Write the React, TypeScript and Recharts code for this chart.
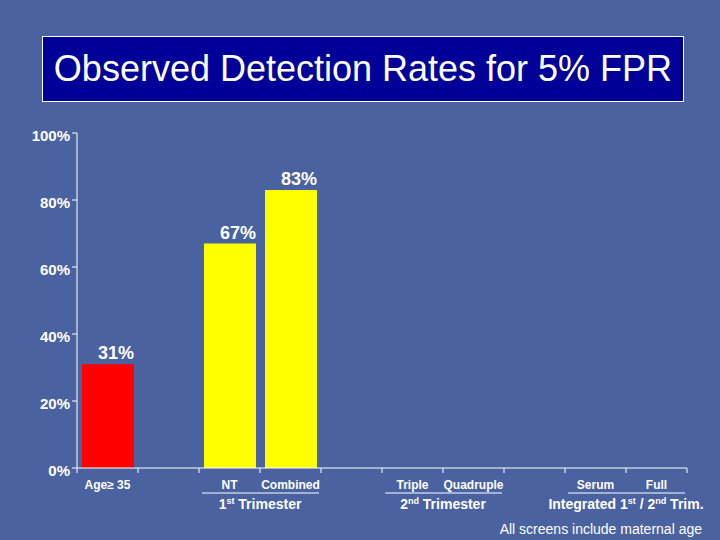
import { Bar, BarChart, Cell, LabelList, XAxis, YAxis } from 'recharts'

const W = 720
const H = 540
const PLOT_LEFT = 77
const PLOT_RIGHT = 33

const categories = ['Age≥ 35', '', 'NT', 'Combined', '', 'Triple', 'Quadruple', '', 'Serum', 'Full']
const rates: Array<number | null> = [31, null, 67, 83, null, null, null, null, null, null]
const barColors = ['#ff0000', '', '#ffff00', '#ffff00', '', '', '', '', '', '']
const yTicks = [0, 20, 40, 60, 80, 100]

// group spans two categories, starting at groupStarts[i]
const groupStarts = [2, 5, 8]
const groupLabels: Array<Array<{ t: string; sup?: boolean }>> = [
  [{ t: '1' }, { t: 'st', sup: true }, { t: ' Trimester' }],
  [{ t: '2' }, { t: 'nd', sup: true }, { t: ' Trimester' }],
  [{ t: 'Integrated 1' }, { t: 'st', sup: true }, { t: ' / 2' }, { t: 'nd', sup: true }, { t: ' Trim.' }],
]

const data = categories.map((name, i) => ({ key: `c${i}`, name, rate: rates[i], color: barColors[i] }))

const FONT = '"Liberation Sans", Arial, sans-serif'
const BG = '#4a63a0'

function XTick(props: any) {
  const { x, y, index } = props
  const band = (W - PLOT_LEFT - PLOT_RIGHT) / categories.length
  const axisY = y
  const g = groupStarts.indexOf(index)
  return (
    <g>
      {index === 0 ? (
        <line x1={x - band / 2} x2={x - band / 2} y1={axisY} y2={axisY + 5} stroke="#fff" />
      ) : null}
      <line x1={x + band / 2} x2={x + band / 2} y1={axisY} y2={axisY + 5} stroke="#fff" />
      <text
        x={x}
        y={axisY + 21}
        textAnchor="middle"
        fill="#fff"
        fontFamily={FONT}
        fontWeight="bold"
        fontSize={12}
      >
        {categories[index]}
      </text>
      {g >= 0 ? (
        <g>
          <line
            x1={x - band / 2 + 3}
            x2={x + band * 1.5 - 2}
            y1={axisY + 25}
            y2={axisY + 25}
            stroke="#fff"
          />
          <text
            x={x + band / 2}
            y={axisY + 41}
            textAnchor="middle"
            fill="#fff"
            fontFamily={FONT}
            fontWeight="bold"
            fontSize={14}
          >
            {groupLabels[g].map((p, k) => (
              <tspan key={k} fontSize={p.sup ? 9 : 14} dy={p.sup ? -5 : k > 0 && groupLabels[g][k - 1].sup ? 5 : 0}>
                {p.t}
              </tspan>
            ))}
          </text>
        </g>
      ) : null}
    </g>
  )
}

function ValueLabel(props: any) {
  const { x, y, width, value } = props
  if (value == null) return null
  return (
    <text
      x={x + width / 2 + 8}
      y={y - 5}
      textAnchor="middle"
      fill="#fff"
      fontFamily={FONT}
      fontWeight="bold"
      fontSize={18}
    >
      {`${value}%`}
    </text>
  )
}

export default function App() {
  return (
    <div
      style={{
        position: 'absolute',
        left: 0,
        top: 0,
        width: W,
        height: H,
        background: BG,
        overflow: 'hidden',
        fontFamily: FONT,
      }}
    >
      <div
        style={{
          position: 'absolute',
          left: 42,
          top: 36,
          width: 640,
          height: 64,
          border: '1px solid #fff',
          background: '#000099',
          color: '#fff',
          fontSize: 36,
          display: 'flex',
          alignItems: 'center',
          justifyContent: 'center',
        }}
      >
        Observed Detection Rates for 5% FPR
      </div>
      <BarChart
        width={W}
        height={H}
        data={data}
        margin={{ top: 133, right: PLOT_RIGHT, bottom: 0, left: 0 }}
        style={{ position: 'absolute', left: 0, top: 0 }}
      >
        <XAxis
          dataKey="key"
          height={72}
          axisLine={{ stroke: '#fff' }}
          tickLine={false}
          tickSize={0}
          tickMargin={0}
          interval={0}
          tick={<XTick />}
        />
        <YAxis
          width={PLOT_LEFT}
          domain={[0, 100]}
          ticks={yTicks}
          interval={0}
          axisLine={{ stroke: '#fff' }}
          tickLine={{ stroke: '#fff' }}
          tickSize={5}
          tickMargin={2}
          tickFormatter={(v: number) => `${v}%`}
          tick={{ fill: '#fff', fontFamily: FONT, fontWeight: 'bold', fontSize: 15, dy: 3 }}
        />
        <Bar dataKey="rate" barSize={52} isAnimationActive={false}>
          {data.map((d) => (
            <Cell key={d.key} fill={d.color} />
          ))}
          <LabelList dataKey="rate" content={<ValueLabel />} />
        </Bar>
      </BarChart>
      <div
        style={{
          position: 'absolute',
          right: 18,
          top: 522,
          fontSize: 14,
          lineHeight: '14px',
          color: '#fff',
        }}
      >
        All screens include maternal age
      </div>
    </div>
  )
}
